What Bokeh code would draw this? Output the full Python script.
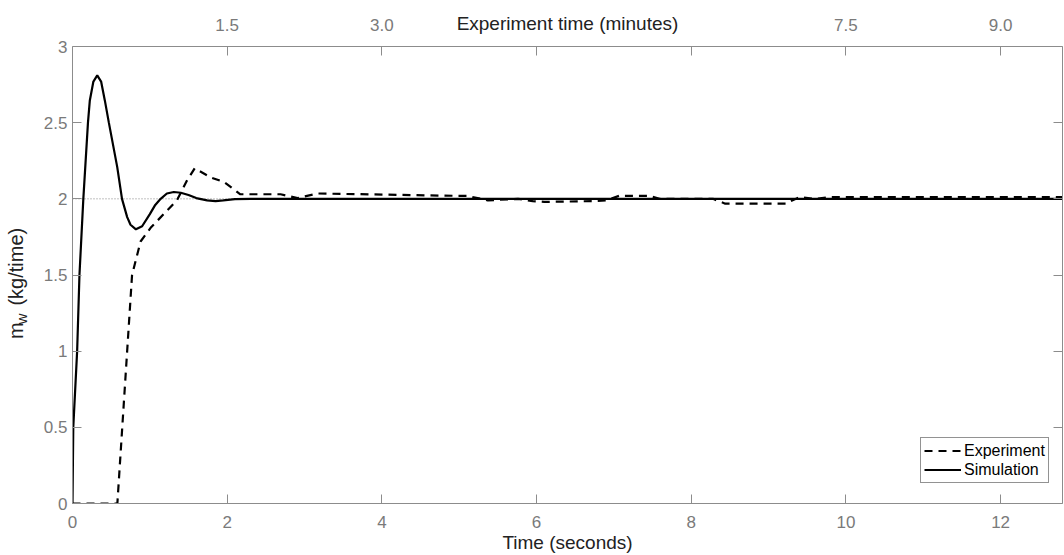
from bokeh.plotting import figure
from bokeh.models import Range1d, LinearAxis, FixedTicker, Span
from bokeh.embed import file_html
from bokeh.resources import INLINE

# ---------------- data ----------------
exp_t = [0, 0.58, 0.77, 0.88, 1.01, 1.18, 1.35, 1.48, 1.58, 1.79, 1.96, 2.17,
         2.69, 2.91, 3.17, 4.93, 5.1, 5.37, 5.76, 5.95, 6.1, 6.74, 6.9, 7.07,
         7.46, 7.59, 8.28, 8.44, 9.22, 9.4, 9.6, 9.79, 12.8]
exp_y = [0, 0, 1.5, 1.72, 1.81, 1.9, 1.99, 2.12, 2.2, 2.14, 2.11, 2.03,
         2.03, 2.005, 2.035, 2.02, 2.02, 1.99, 2.0, 1.985, 1.98, 1.985, 1.99, 2.02,
         2.02, 2.0, 2.0, 1.968, 1.968, 2.012, 2.0, 2.012, 2.012]

sim_t = [0, 0.01, 0.06, 0.09, 0.14, 0.2, 0.224, 0.27, 0.32, 0.37, 0.418, 0.47,
         0.578, 0.64, 0.707, 0.75, 0.82, 0.9, 1.0, 1.07, 1.14, 1.22, 1.31, 1.4,
         1.5, 1.6, 1.74, 1.85, 1.95, 2.1, 2.3, 12.8]
sim_y = [0, 0.5, 1.0, 1.5, 2.0, 2.5, 2.646, 2.77, 2.81, 2.77, 2.646, 2.5,
         2.21, 2.0, 1.88, 1.83, 1.80, 1.82, 1.9, 1.96, 2.0, 2.035, 2.045, 2.04,
         2.025, 2.005, 1.99, 1.985, 1.99, 1.998, 2.0, 2.0]

setpoint = 2.0

x_tick_values = [0, 2, 4, 6, 8, 10, 12]
y_tick_values = [0, 0.5, 1, 1.5, 2, 2.5, 3]
y_tick_labels = ["0", "0.5", "1", "1.5", "2", "2.5", "3"]
top_tick_values = [1.5, 3.0, 4.5, 6.0, 7.5, 9.0]
top_tick_labels = ["1.5", "3.0", "", "", "7.5", "9.0"]

x_max = 12.8
minutes_per_second = 0.75

NB = "\u00a0"
x_title = "Time (seconds)"
top_title = "Experiment time (minutes)"
y_title_main = "m" + NB * 3 + "(kg/time)" + NB * 3
y_title_sub = "w" + NB * 21

# ---------------- styles ----------------
FONT = "Liberation Sans"
AX = "#8c8c8c"
TL = "#7a7a7a"
TXT = "#222222"

p = figure(width=1064, height=555, x_range=Range1d(0, x_max), y_range=Range1d(0, 3),
           output_backend="svg", toolbar_location=None,
           min_border_left=72, min_border_right=2, min_border_top=46, min_border_bottom=52)
p.extra_x_ranges = {"min": Range1d(0, x_max * minutes_per_second)}
p.outline_line_color = None
p.xgrid.visible = False
p.ygrid.visible = False
p.background_fill_color = "white"
p.border_fill_color = "white"

bottom = p.below[0]
left = p.left[0]
top = LinearAxis(x_range_name="min")
p.add_layout(top, "above")
right = LinearAxis()
p.add_layout(right, "right")
sub = LinearAxis()
p.add_layout(sub, "left")

for ax in [bottom, left, top, right]:
    ax.axis_line_color = AX
    ax.axis_line_width = 1
    ax.major_tick_line_color = AX
    ax.major_tick_in = 9
    ax.major_tick_out = 0
    ax.minor_tick_line_color = None
    ax.major_label_text_color = TL
    ax.major_label_text_font = FONT
    ax.major_label_text_font_size = "17px"
    ax.axis_label_text_font = FONT
    ax.axis_label_text_font_style = "normal"
    ax.axis_label_text_color = TXT

bottom.ticker = FixedTicker(ticks=x_tick_values)
bottom.major_label_standoff = 12
bottom.axis_label = x_title
bottom.axis_label_text_font_size = "19px"
bottom.axis_label_standoff = 1

left.ticker = FixedTicker(ticks=y_tick_values)
left.major_label_overrides = dict(zip(y_tick_values, y_tick_labels))
left.major_label_standoff = 5
left.axis_label = y_title_main
left.axis_label_text_font_size = "20px"
left.axis_label_standoff = 14

top.ticker = FixedTicker(ticks=top_tick_values)
top.major_label_overrides = dict(zip(top_tick_values, top_tick_labels))
top.major_label_standoff = 16
top.axis_label = top_title
top.axis_label_text_font_size = "19px"
top.axis_label_standoff = -18

right.ticker = FixedTicker(ticks=y_tick_values)
right.major_label_text_font_size = "0px"
right.major_label_standoff = 0

# subscript "w" of the y title, on an empty helper axis
sub.ticker = FixedTicker(ticks=[])
sub.axis_line_color = None
sub.major_tick_line_color = None
sub.minor_tick_line_color = None
sub.major_label_text_font_size = "0px"
sub.major_label_standoff = 0
sub.axis_label = y_title_sub
sub.axis_label_text_font = FONT
sub.axis_label_text_font_style = "normal"
sub.axis_label_text_font_size = "15px"
sub.axis_label_text_color = TXT
sub.axis_label_standoff = -28

span = Span(location=setpoint, dimension="width", line_color="#808080",
            line_dash="1 2", line_width=1, level="underlay")
p.add_layout(span)

p.line(exp_t, exp_y, line_color="black", line_width=2.2, line_dash="8 6",
       legend_label="Experiment")
p.line(sim_t, sim_y, line_color="black", line_width=2.2, legend_label="Simulation")

lg = p.legend[0]
lg.location = (848, 20)
lg.border_line_color = "#262626"
lg.border_line_width = 1
lg.background_fill_color = "white"
lg.background_fill_alpha = 1
lg.label_text_font = FONT
lg.label_text_font_size = "16px"
lg.label_text_color = "black"
lg.glyph_width = 37
lg.glyph_height = 19
lg.label_height = 19
lg.label_standoff = 3
lg.padding = 3
lg.spacing = 0
lg.margin = 0

open("out.html", "w").write(file_html(p, INLINE))
